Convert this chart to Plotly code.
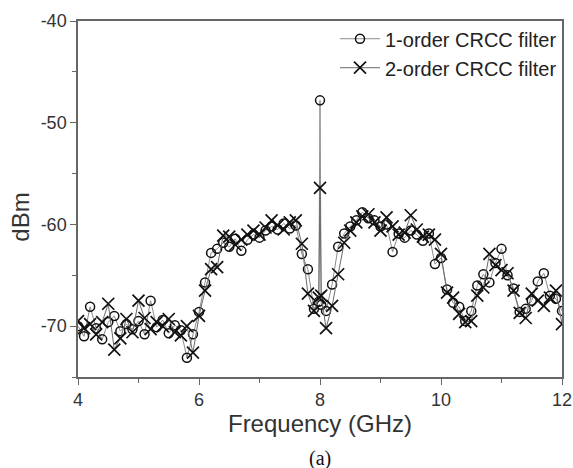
import plotly.graph_objects as go

freq = [4.0, 4.1, 4.2, 4.3, 4.4, 4.5, 4.6, 4.7, 4.8, 4.9,
        5.0, 5.1, 5.2, 5.3, 5.4, 5.5, 5.6, 5.7, 5.8, 5.9,
        6.0, 6.1, 6.2, 6.3, 6.4, 6.5, 6.6, 6.7, 6.8, 6.9,
        7.0, 7.1, 7.2, 7.3, 7.4, 7.5, 7.6, 7.7, 7.8, 7.9,
        7.98, 8.0, 8.02, 8.1, 8.2, 8.3, 8.4, 8.5, 8.6, 8.7, 8.8, 8.9,
        9.0, 9.1, 9.2, 9.3, 9.4, 9.5, 9.6, 9.7, 9.8, 9.9,
        10.0, 10.1, 10.2, 10.3, 10.4, 10.5, 10.6, 10.7, 10.8, 10.9,
        11.0, 11.1, 11.2, 11.3, 11.4, 11.5, 11.6, 11.7, 11.8, 11.9,
        12.0]

crcc1 = [-70.0, -71.0, -68.1, -70.2, -71.3, -69.6, -69.0, -70.5, -69.8, -70.3,
         -69.5, -70.8, -67.5, -70.1, -69.4, -70.7, -69.9, -70.4, -73.1, -70.8,
         -68.6, -65.7, -62.8, -62.4, -61.8, -62.2, -61.4, -62.6, -61.5, -61.0,
         -61.3, -60.6, -60.2, -60.5, -59.9, -60.4, -60.1, -62.9, -64.4, -68.3,
         -67.6, -47.8, -67.9, -68.5, -65.9, -62.2, -60.9, -60.2, -59.6, -58.8, -59.4, -59.6,
         -60.2, -60.0, -62.7, -60.9, -61.3, -60.6, -61.0, -61.6, -60.9, -63.9,
         -63.3, -66.4, -67.7, -68.1, -69.5, -68.5, -66.0, -64.9, -65.7, -63.8,
         -62.4, -65.0, -66.3, -68.6, -68.3, -67.5, -65.6, -64.8, -67.0, -67.3,
         -68.5]

crcc2 = [-69.5, -70.2, -69.8, -70.8, -69.6, -67.8, -72.3, -71.2, -69.3, -70.6,
         -67.5, -69.2, -70.3, -69.6, -70.0, -69.3, -70.6, -70.9, -70.0, -72.6,
         -69.0, -66.5, -64.4, -64.2, -61.1, -61.2, -62.0, -61.5, -61.0, -60.6,
         -61.0, -60.3, -59.6, -60.1, -60.5, -59.8, -59.6, -61.9, -66.8, -68.5,
         -67.2, -56.4, -67.0, -70.2, -68.0, -64.9, -61.8, -60.6, -59.8, -59.2, -59.0, -59.8,
         -60.6, -59.3, -60.2, -61.0, -60.8, -59.1, -60.5, -61.2, -61.0, -61.5,
         -62.9, -66.7, -67.2, -68.8, -69.6, -69.5, -67.0, -66.2, -62.9, -64.0,
         -64.5, -64.8, -66.5, -68.7, -69.2, -66.8, -67.5, -68.0, -67.2, -66.5,
         -69.8]

names = ["1-order CRCC filter", "2-order CRCC filter"]
x_ticks = [4, 6, 8, 10, 12]
y_ticks = [-70, -60, -50, -40]
y_ticktext = ["-70", "-60", "-50", "-40"]

fig = go.Figure()
fig.add_trace(go.Scatter(
    x=freq, y=crcc1, name=names[0], mode="lines+markers",
    line=dict(color="#8c8c8c", width=1),
    marker=dict(symbol="circle-open", size=9, color="#111",
                line=dict(width=1.5, color="#111")),
))
fig.add_trace(go.Scatter(
    x=freq, y=crcc2, name=names[1], mode="lines+markers",
    line=dict(color="#6a6a6a", width=1),
    marker=dict(symbol="x-thin-open", size=12, color="#111",
                line=dict(width=1.7, color="#111")),
))

axis_common = dict(
    showline=True, linecolor="#666", linewidth=1.5, mirror=True,
    ticks="outside", ticklen=6, tickcolor="#666", tickwidth=1.2,
    showgrid=False, zeroline=False, automargin=False,
    tickfont=dict(family="Liberation Sans, Arial", size=18, color="#333"),
)

fig.update_xaxes(range=[4, 12], tickvals=x_ticks,
                 minor=dict(dtick=1, ticklen=4, tickcolor="#666", ticks="outside"),
                 title=dict(text="Frequency (GHz)", standoff=0,
                            font=dict(family="Liberation Sans, Arial", size=24, color="#333")),
                 **axis_common)
fig.update_yaxes(range=[-75, -40], tickvals=y_ticks, ticktext=y_ticktext,
                 minor=dict(dtick=5, ticklen=4, tickcolor="#666", ticks="outside"),
                 **axis_common)

fig.add_annotation(text="dBm", textangle=-90, xref="paper", yref="paper",
                   x=-0.118, y=0.45, xanchor="center", yanchor="middle", showarrow=False,
                   font=dict(family="Liberation Sans, Arial", size=24, color="#333"))
fig.add_annotation(text="(a)", xref="paper", yref="paper",
                   x=0.5, y=-0.19, xanchor="center", yanchor="top", showarrow=False,
                   font=dict(family="Liberation Serif, Times New Roman", size=20, color="#111"))

fig.update_layout(
    width=573, height=468,
    margin=dict(l=78, r=11, t=21, b=91),
    paper_bgcolor="white", plot_bgcolor="white",
    showlegend=True,
    legend=dict(x=1, xanchor="right", y=1.005, yanchor="top", bgcolor="rgba(0,0,0,0)",
                font=dict(family="Liberation Sans, Arial", size=20, color="#222"),
                tracegroupgap=0, itemwidth=40),
)

fig.write_html("out.html")
